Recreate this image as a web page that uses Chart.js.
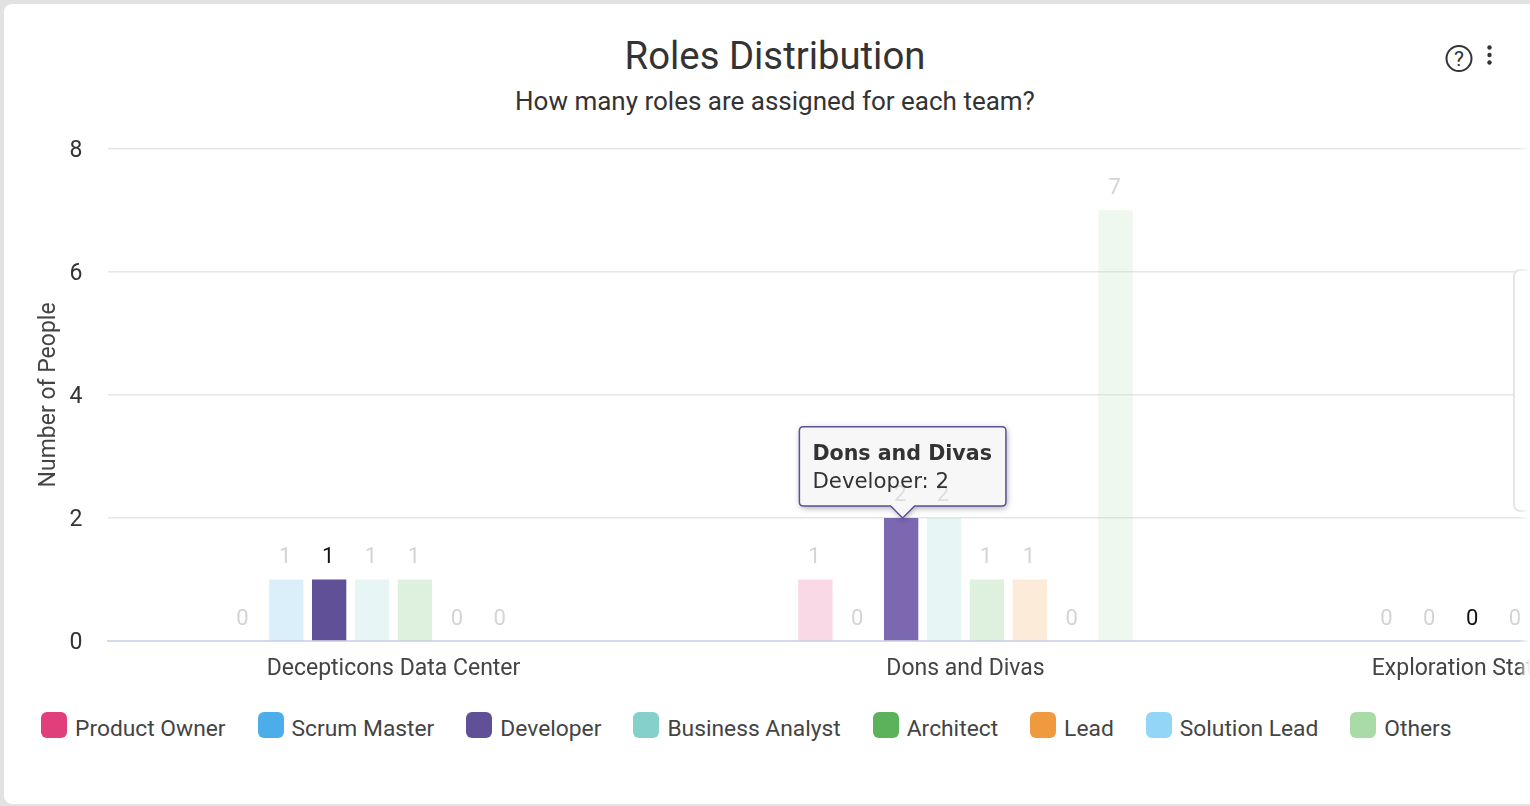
<!DOCTYPE html>
<html>
<head>
<meta charset="utf-8">
<title>Roles Distribution</title>
<script src="https://cdn.jsdelivr.net/npm/chart.js@4"></script>
<style>
  html, body { margin: 0; height: 100%; background: #e2e2e2; overflow: hidden; }
  body { font-family: Roboto, sans-serif; color: #333; position: relative; width: 1530px; height: 806px; }
  .card { position: absolute; left: 4px; top: 4px; width: 1600px; height: 800px; background: #fff; border-radius: 8px; }
  .heading { position: absolute; left: 0; width: 1550px; text-align: center; white-space: nowrap; }
  #title { top: 33px; font-size: 38.3px; line-height: 46px; }
  #subtitle { top: 86px; font-size: 26px; line-height: 30px; }
  #chart-wrap { position: absolute; left: 0; top: 110px; width: 1530px; height: 581px; overflow: hidden; }
  #chart-wrap canvas { position: absolute; left: 0; top: 0; }
  /* panel that pokes in from the right of the chart */
  #side-panel { position: absolute; left: 1513px; top: 269px; width: 60px; height: 243px; box-sizing: border-box;
    background: #fff; border: 2px solid #e6e6e6; border-radius: 7px; }
  #fade { position: absolute; left: 1518px; top: 130px; width: 12px; height: 560px;
    background: linear-gradient(to right, rgba(255,255,255,0), #fff); }
  #help { position: absolute; left: 1444px; top: 44px; }
  #legend { position: absolute; left: 41px; top: 712px; display: flex; gap: 32px; white-space: nowrap;
    font-size: 22.8px; line-height: 30px; color: #444; }
  #legend .item { display: flex; gap: 8px; }
  #legend .item span { position: relative; top: 2px; }
  #legend .swatch { width: 26px; height: 26px; border-radius: 6px; }
</style>
</head>
<body>
<div class="card"></div>
<div class="heading" id="title">Roles Distribution</div>
<div class="heading" id="subtitle">How many roles are assigned for each team?</div>
<svg id="help" width="56" height="30" viewBox="0 0 56 30">
  <circle cx="15" cy="14.5" r="12.5" fill="none" stroke="#333" stroke-width="2"/>
  <text x="15" y="22" text-anchor="middle" font-family="Roboto" font-size="21" fill="#333">?</text>
  <circle cx="45.5" cy="3.5" r="2.2" fill="#333"/>
  <circle cx="45.5" cy="11" r="2.2" fill="#333"/>
  <circle cx="45.5" cy="18.5" r="2.2" fill="#333"/>
</svg>
<div id="chart-wrap"><canvas id="roles-chart" width="1830" height="581"></canvas></div>
<div id="side-panel"></div>
<div id="fade"></div>
<div id="legend"></div>

<script>
// Datos
const teams = ['Decepticons Data Center', 'Dons and Divas', 'Exploration Station Data Centers'];
const roles = ['Product Owner', 'Scrum Master', 'Developer', 'Business Analyst', 'Architect', 'Lead', 'Solution Lead', 'Others'];
const yTicks = [0, 2, 4, 6, 8];

const productOwner = [0, 1, 0];
const scrumMaster = [1, 0, 0];
const developer = [1, 2, 0];
const businessAnalyst = [1, 2, 0];
const architect = [1, 1, 0];
const lead = [0, 1, 0];
const solutionLead = [0, 0, 0];
const others = [null, 7, 0];

const roleValues = [productOwner, scrumMaster, developer, businessAnalyst, architect, lead, solutionLead, others];
const roleColors = ['224,63,124', '75,174,234', '95,80,152', '133,208,203', '92,178,90', '239,154,63', '147,213,247', '169,219,168'];

const focusRole = 2;      // Developer stays solid, the rest are dimmed
const focusTeam = 1;      // tooltip sits on Dons and Divas

// Numeros encima de cada barra
function drawBarValues(chart, keep, colorFor) {
  const ctx = chart.ctx;
  ctx.save();
  ctx.font = '22px Roboto';
  ctx.textAlign = 'center';
  ctx.textBaseline = 'middle';
  chart.data.datasets.forEach((dataset, i) => {
    chart.getDatasetMeta(i).data.forEach((bar, j) => {
      const value = dataset.data[j];
      if (value === null || !keep(bar)) return;
      ctx.fillStyle = colorFor(i, j);
      ctx.fillText(value, bar.x - 1, bar.y - 22);
    });
  });
  ctx.restore();
}

const barValuesPlugin = {
  id: 'barValues',
  afterDatasetsDraw(chart) {
    drawBarValues(chart, () => true, (i, j) => (i === focusRole && j !== focusTeam ? '#111' : '#d4d4d4'));
  },
  // fondo y sombra del tooltip; los numeros de debajo se siguen viendo un poco
  beforeTooltipDraw(chart, args) {
    const t = args.tooltip;
    const ctx = chart.ctx;
    ctx.save();
    ctx.shadowColor = 'rgba(0,0,0,0.35)';
    ctx.shadowBlur = 6;
    ctx.shadowOffsetX = 1;
    ctx.shadowOffsetY = 2;
    ctx.fillStyle = '#f7f7f7';
    ctx.beginPath();
    ctx.roundRect(t.x, t.y, t.width, t.height, 4);
    ctx.moveTo(t.caretX - 11, t.y + t.height);
    ctx.lineTo(t.caretX, t.caretY);
    ctx.lineTo(t.caretX + 11, t.y + t.height);
    ctx.fill();
    ctx.restore();
    const inBox = bar => bar.x > t.x && bar.x < t.x + t.width && bar.y - 22 > t.y && bar.y - 22 < t.y + t.height;
    drawBarValues(chart, inBox, () => '#dedede');
  }
};

// Tooltip un poco a la derecha del centro de la barra
Chart.Tooltip.positioners.barTop = function (items) {
  const el = items[0].element;
  return { x: el.x + 1.5, y: el.y };
};

const chart = new Chart(document.querySelector('#roles-chart').getContext('2d'), {
  type: 'bar',
  data: {
    labels: teams,
    datasets: roles.map((role, i) => ({
      label: role,
      data: roleValues[i],
      backgroundColor: `rgba(${roleColors[i]},${i === focusRole ? 1 : 0.2})`,
      hoverBackgroundColor: i === focusRole ? '#7b68b0' : undefined,
      categoryPercentage: 0.6,
      barPercentage: 0.8
    }))
  },
  options: {
    responsive: false,
    maintainAspectRatio: false,
    animation: false,
    events: [],
    layout: { padding: { top: 15, right: 6.5 } },
    scales: {
      x: {
        afterFit(scale) { scale.height = 50; },
        grid: { display: false },
        border: { color: '#d3d8ea', width: 2 },
        ticks: { color: '#444', font: { family: 'Roboto', size: 23 }, padding: 6, autoSkip: false, maxRotation: 0 }
      },
      y: {
        min: 0,
        max: 8,
        afterBuildTicks(scale) { scale.ticks = yTicks.map(v => ({ value: v })); },
        afterFit(scale) { scale.width = 107.5; },
        grid: { color: '#e6e6e6', lineWidth: 1.5, drawTicks: false },
        border: { display: false },
        ticks: { color: '#333', font: { family: 'Roboto', size: 23 }, padding: 25, labelOffset: 2 },
        title: { display: true, text: 'Number of People', color: '#444', font: { family: 'Roboto', size: 23 }, padding: { top: 35, bottom: 0 } }
      }
    },
    plugins: {
      legend: { display: false },
      tooltip: {
        animation: false,
        position: 'barTop',
        xAlign: 'center',
        yAlign: 'bottom',
        backgroundColor: 'transparent',
        borderColor: '#5f5098',
        borderWidth: 1.5,
        cornerRadius: 4,
        caretSize: 12,
        caretPadding: 0,
        padding: { top: 16, bottom: 11, left: 13, right: 14 },
        displayColors: false,
        titleColor: '#333',
        bodyColor: '#333',
        titleFont: { family: 'DejaVu Sans', size: 20.6, weight: 'bold' },
        bodyFont: { family: 'DejaVu Sans', size: 21.3 },
        titleMarginBottom: 2,
        callbacks: {
          label: item => `${item.dataset.label}: ${item.raw}`
        }
      }
    }
  },
  plugins: [barValuesPlugin]
});

// Barra activa con su tooltip
const active = [{ datasetIndex: focusRole, index: focusTeam }];
chart.setActiveElements(active);
chart.tooltip.setActiveElements(active, { x: 0, y: 0 });
chart.update();

// Leyenda
const legendBox = document.querySelector('#legend');
roles.forEach((role, i) => {
  const item = document.createElement('div');
  item.className = 'item';
  const swatch = document.createElement('div');
  swatch.className = 'swatch';
  swatch.style.background = `rgb(${roleColors[i]})`;
  const text = document.createElement('span');
  text.textContent = role;
  item.append(swatch, text);
  legendBox.append(item);
});
</script>
</body>
</html>
